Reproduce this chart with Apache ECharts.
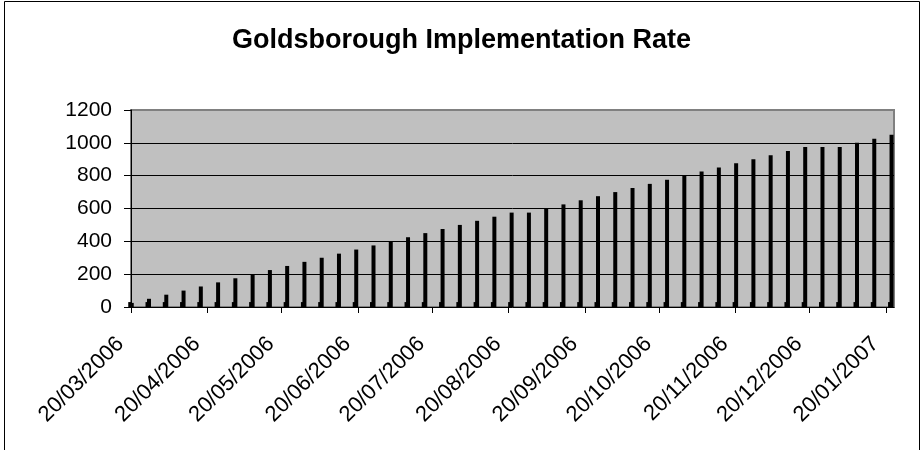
<!DOCTYPE html>
<html>
<head>
<meta charset="utf-8">
<title>Goldsborough Implementation Rate</title>
<script src="https://cdn.jsdelivr.net/npm/echarts@6/dist/echarts.min.js"></script>
<style>
  html, body { margin: 0; padding: 0; background: #ffffff; }
  #chart { width: 923px; height: 450px; }
</style>
</head>
<body>
<div id="chart"></div>
<script>
// Week-commencing dates (Mondays)
const weeks = [
  '2006-03-20', '2006-03-27',
  '2006-04-03', '2006-04-10', '2006-04-17', '2006-04-24',
  '2006-05-01', '2006-05-08', '2006-05-15', '2006-05-22', '2006-05-29',
  '2006-06-05', '2006-06-12', '2006-06-19', '2006-06-26',
  '2006-07-03', '2006-07-10', '2006-07-17', '2006-07-24', '2006-07-31',
  '2006-08-07', '2006-08-14', '2006-08-21', '2006-08-28',
  '2006-09-04', '2006-09-11', '2006-09-18', '2006-09-25',
  '2006-10-02', '2006-10-09', '2006-10-16', '2006-10-23', '2006-10-30',
  '2006-11-06', '2006-11-13', '2006-11-20', '2006-11-27',
  '2006-12-04', '2006-12-11', '2006-12-18', '2006-12-25',
  '2007-01-01', '2007-01-08', '2007-01-15', '2007-01-22'
];

// Cumulative number implemented
const cumulative = [
  25, 50,
  75, 100, 125, 150,
  175, 200, 225, 250, 275,
  300, 325, 350, 375,
  400, 425, 450, 475, 500,
  525, 550, 575, 575,
  600, 625, 650, 675,
  700, 725, 750, 775, 800,
  825, 850, 875, 900,
  925, 950, 975, 975,
  975, 1000, 1025, 1050
];

// Implemented during the week
const weekly = [
  30, 30,
  30, 30, 30, 30,
  30, 30, 30, 30, 30,
  30, 30, 30, 30,
  30, 30, 30, 30, 30,
  30, 30, 30, 30,
  30, 30, 30, 30,
  30, 30, 30, 30, 30,
  30, 30, 30, 30,
  30, 30, 30, 30,
  30, 30, 30, 30
];

// Date-axis tick labels
const tickLabels = [
  '20/03/2006', '20/04/2006', '20/05/2006', '20/06/2006', '20/07/2006',
  '20/08/2006', '20/09/2006', '20/10/2006', '20/11/2006', '20/12/2006',
  '20/01/2007'
];

// Y-axis range
const yMin = 0, yMax = 1200, yStep = 200;

const DAY = 24 * 3600 * 1000;
function isoToDate(s) {
  const p = s.split('-').map(Number);
  return Date.UTC(p[0], p[1] - 1, p[2]);
}
function dmyToDate(s) {
  const p = s.split('/').map(Number);
  return Date.UTC(p[2], p[1] - 1, p[0]);
}
// The x axis runs in whole days counted from the first week
const origin = isoToDate(weeks[0]);
const dayOf = t => Math.round((t - origin) / DAY);

const weekDays = weeks.map(s => dayOf(isoToDate(s)));
const tickDays = tickLabels.map(s => dayOf(dmyToDate(s)));
const lastDay = weekDays[weekDays.length - 1];

const FONT = "'Liberation Sans', Arial, sans-serif";

const chart = echarts.init(document.getElementById('chart'), null, { renderer: 'canvas' });

chart.setOption({
  backgroundColor: '#ffffff',
  animation: false,
  title: {
    text: 'Goldsborough Implementation Rate',
    left: 'center',
    top: 22,
    textStyle: { fontFamily: FONT, fontSize: 27, fontWeight: 'bold', color: '#000' }
  },
  graphic: [{
    type: 'rect',
    shape: { x: 4.5, y: 1.5, width: 915, height: 470 },
    style: { fill: 'none', stroke: '#000', lineWidth: 1 },
    silent: true,
    z: 100
  }],
  grid: {
    left: 131, top: 110, width: 763, height: 197,
    show: true,
    backgroundColor: '#c0c0c0',
    borderColor: '#808080',
    borderWidth: 2
  },
  xAxis: {
    type: 'value',
    min: 0,
    max: lastDay + 1.3,
    axisLine: { show: true, onZero: false, lineStyle: { color: '#000', width: 1 } },
    axisTick: {
      show: true, length: 6, inside: false,
      customValues: tickDays,
      lineStyle: { color: '#000', width: 1 }
    },
    axisLabel: {
      customValues: tickDays,
      formatter: function (v) {
        const i = tickDays.indexOf(Math.round(v));
        return i >= 0 ? tickLabels[i] : '';
      },
      rotate: 45,
      margin: 23,
      padding: [0, 15, 0, 0],
      fontFamily: FONT,
      fontSize: 22,
      color: '#000',
      showMinLabel: true,
      showMaxLabel: true
    },
    splitLine: { show: false }
  },
  yAxis: {
    type: 'value',
    min: yMin,
    max: yMax,
    interval: yStep,
    axisLine: { show: true, lineStyle: { color: '#000', width: 1 } },
    axisTick: { show: true, length: 7, lineStyle: { color: '#000', width: 1 } },
    axisLabel: {
      margin: 19,
      fontFamily: FONT,
      fontSize: 21,
      color: '#000',
      formatter: function (v) { return String(v); }
    },
    splitLine: {
      show: true,
      showMinLine: false,
      showMaxLine: false,
      lineStyle: { color: '#000', width: 1 }
    }
  },
  series: [
    {
      name: 'Weekly',
      type: 'bar',
      barWidth: 3,
      barGap: '-50%',
      itemStyle: { color: '#000' },
      data: weekDays.map((d, i) => [d, weekly[i]])
    },
    {
      name: 'Cumulative',
      type: 'bar',
      barWidth: 4,
      barGap: '-50%',
      itemStyle: { color: '#000' },
      data: weekDays.map((d, i) => [d, cumulative[i]])
    }
  ]
});
</script>
</body>
</html>
